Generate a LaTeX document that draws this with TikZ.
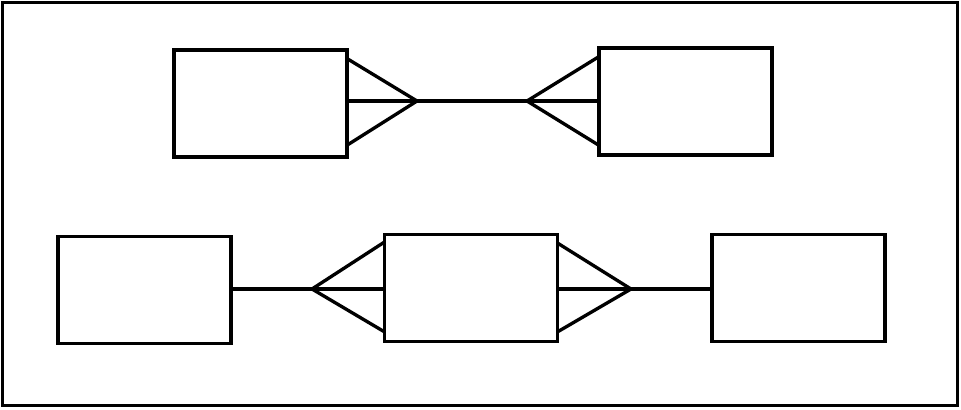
\documentclass[tikz,border=0pt]{standalone}
\usetikzlibrary{calc}

\tikzset{
  entity/.style={draw, rectangle, inner sep=0pt, outer sep=0pt,
    minimum width=51.9mm, minimum height=32.1mm},
  link/.style={line width=1mm}
}

\begin{document}
\begin{tikzpicture}[x=0.3mm, y=-0.3mm, line width=1mm]
  \useasboundingbox (0,0) rectangle (961,409);
  \draw[line width=1.1mm] (2.5,2.5) rectangle (957.5,405.5);

  % top pair
  \node[entity] (ta) at (260.5,103.5) {};
  \node[entity] (tb) at (685.5,101.5) {};
  \coordinate (ta tip) at (417,101);
  \coordinate (tb tip) at (527,101);
  \draw[link] (ta tip) -- ($(ta.north east)!0.08!(ta.south east)$);
  \draw[link] (ta tip) -- (ta.east |- ta tip);
  \draw[link] (ta tip) -- ($(ta.north east)!0.89!(ta.south east)$);
  \draw[link] (tb tip) -- ($(tb.north west)!0.08!(tb.south west)$);
  \draw[link] (tb tip) -- (tb.west |- tb tip);
  \draw[link] (tb tip) -- ($(tb.north west)!0.91!(tb.south west)$);
  \draw[link] (ta tip) -- (tb tip);

  % bottom row
  \node[entity] (ba) at (144.5,290) {};
  \node[entity] (bm) at (471,288) {};
  \node[entity] (bb) at (798.5,288) {};
  \coordinate (bm left tip) at (312,289);
  \coordinate (bm right tip) at (631,289);
  \draw[link] (ba.east |- bm left tip) -- (bm left tip);
  \draw[link] (bm left tip) -- ($(bm.north west)!0.07!(bm.south west)$);
  \draw[link] (bm left tip) -- (bm.west |- bm left tip);
  \draw[link] (bm left tip) -- ($(bm.north west)!0.91!(bm.south west)$);
  \draw[link] (bm right tip) -- ($(bm.north east)!0.08!(bm.south east)$);
  \draw[link] (bm right tip) -- (bm.east |- bm right tip);
  \draw[link] (bm right tip) -- ($(bm.north east)!0.91!(bm.south east)$);
  \draw[link] (bm right tip) -- (bb.west |- bm right tip);
\end{tikzpicture}
\end{document}
